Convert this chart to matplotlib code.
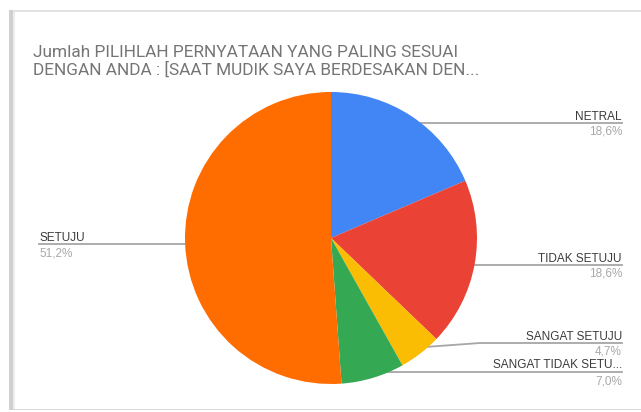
import numpy as np
import matplotlib.pyplot as plt
from matplotlib.patches import Rectangle

W, H = 641, 412

title_lines = ["Jumlah PILIHLAH PERNYATAAN YANG PALING SESUAI",
               "DENGAN ANDA : [SAAT MUDIK SAYA BERDESAKAN DEN..."]
labels = ["NETRAL", "TIDAK SETUJU", "SANGAT SETUJU", "SANGAT TIDAK SETU...", "SETUJU"]
percents = [18.6, 18.6, 4.7, 7.0, 51.2]
colors = ["#4285F4", "#EA4335", "#FBBC04", "#34A853", "#FF6D01"]

plt.rcParams["font.family"] = ["Liberation Sans", "DejaVu Sans"]

fig = plt.figure(figsize=(W / 100, H / 100), dpi=100)
fig.patch.set_facecolor("white")

# overlay in pixel coordinates (y down) for the card, title and labels
ov = fig.add_axes([0, 0, 1, 1])
ov.set_xlim(0, W)
ov.set_ylim(H, 0)
ov.axis("off")

# card edges
ov.add_patch(Rectangle((10, 10), W, 1.5, color="#e2e2e2", lw=0))
ov.add_patch(Rectangle((10, 408.5), W, 1.5, color="#d8d8d8", lw=0))
ov.add_patch(Rectangle((9, 10), 4, 400, color="#d0d0d0", lw=0))
ov.add_patch(Rectangle((13, 11.5), 2, 397, color="#ececec", lw=0))

for i, line in enumerate(title_lines):
    ov.text(33, 57 + 18 * i, line, fontsize=12.4, color="#757575",
            va="baseline", ha="left", family=["Roboto", "DejaVu Sans"])

# pie axes
cx, cy, R = 331, 238, 146
pie_ax = fig.add_axes([(cx - R) / W, (H - cy - R) / H, 2 * R / W, 2 * R / H])
wedges, _ = pie_ax.pie(percents, colors=colors, startangle=90, counterclock=False,
                       radius=1.0, wedgeprops=dict(linewidth=0))
pie_ax.set_xlim(-1, 1)
pie_ax.set_ylim(-1, 1)
pie_ax.set_aspect("auto")
pie_ax.axis("off")

# label layout: (line y, left side?, elbow)
layout = {
    "NETRAL": (123, False, None),
    "TIDAK SETUJU": (265, False, None),
    "SANGAT SETUJU": (343, False, 480),
    "SANGAT TIDAK SETU...": (372, False, None),
    "SETUJU": (244, True, None),
}

for w, lab, pct in zip(wedges, labels, percents):
    mid = np.deg2rad((w.theta1 + w.theta2) / 2)
    dx = cx + 0.95 * R * np.cos(mid)
    dy = cy - 0.95 * R * np.sin(mid)
    ly, left, elbow = layout[lab]
    if left:
        xs, ys = [39, dx], [ly, ly]
        tx, ha = 39, "left"
    else:
        if elbow:
            xs, ys = [dx, elbow, 622], [dy, ly, ly]
        else:
            xs, ys = [dx, 622], [ly, ly]
        tx, ha = 622, "right"
    ov.plot(xs, ys, color="#a6a6a6", lw=1.3, zorder=5)
    ov.plot([dx], [dy], "o", color="#a6a6a6", ms=3.5, zorder=6)
    ov.text(tx, ly - 3.5, lab, fontsize=8.5, color="#3c3c3c", ha=ha, va="baseline")
    ov.text(tx, ly + 12, f"{pct:.1f}%".replace(".", ","), fontsize=8.5,
            color="#a8a8a8", ha=ha, va="baseline")

fig.savefig("out.png", dpi=100, facecolor="white")
